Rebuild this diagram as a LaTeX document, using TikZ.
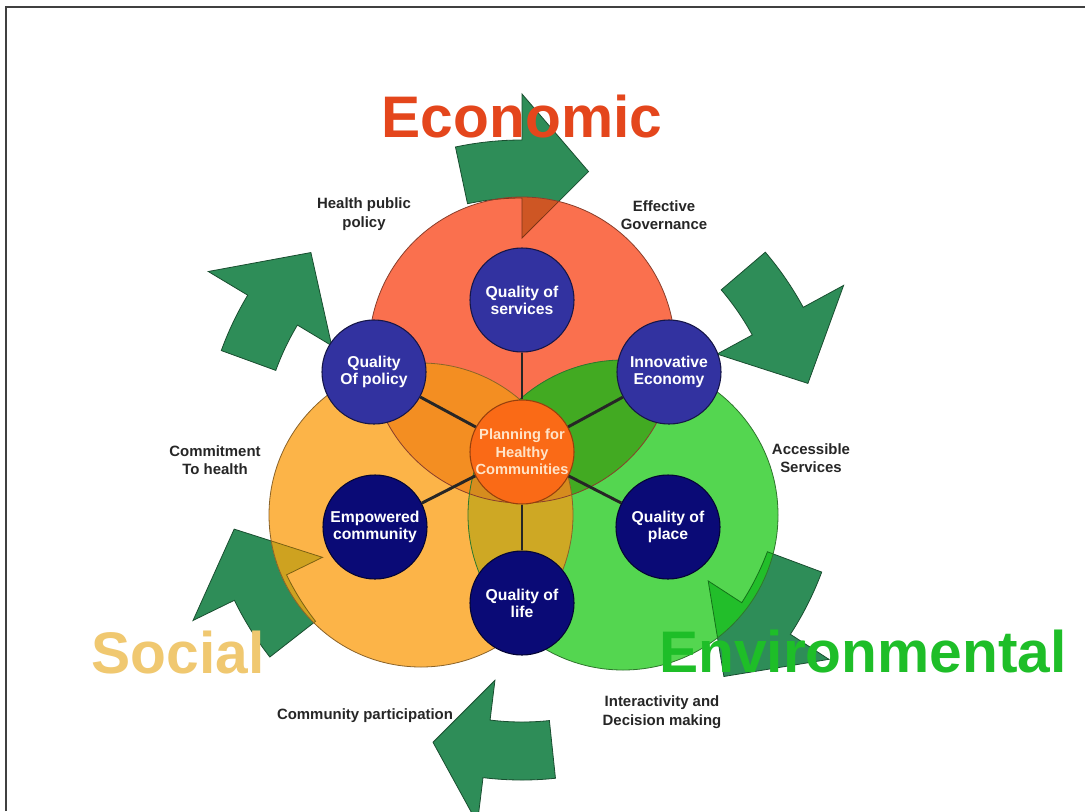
\documentclass[tikz,border=0pt]{standalone}
\usepackage{fontspec}
\setmainfont{Liberation Sans}
\usetikzlibrary{positioning}

\definecolor{turngreen}{RGB}{46,141,88}
\definecolor{ecofill}{RGB}{250,112,78}
\definecolor{socfill}{RGB}{252,180,72}
\definecolor{envfill}{RGB}{84,214,80}
\definecolor{ecosoc}{RGB}{243,142,34}
\definecolor{ecoenv}{RGB}{66,170,34}
\definecolor{socenv}{RGB}{206,168,36}
\definecolor{allthree}{RGB}{214,140,30}
\definecolor{ecotint}{RGB}{206,86,36}
\definecolor{soctint}{RGB}{206,162,32}
\definecolor{envtint}{RGB}{34,190,42}
\definecolor{goalblue}{RGB}{50,50,160}
\definecolor{goalnavy}{RGB}{10,10,118}
\definecolor{hubfill}{RGB}{250,106,22}
\definecolor{hubtext}{RGB}{255,228,200}
\definecolor{ecotext}{RGB}{228,70,28}
\definecolor{soctext}{RGB}{240,200,112}
\definecolor{envtext}{RGB}{30,190,40}

% radii of the turning arrows (pixels of the sheet)
\def\bodyin{262}
\def\bodyout{320}
\def\headin{222}
\def\headout{366}
\def\tipr{296}
% tail angle, head angle, tip angle
\newcommand{\turnpath}[3]{(#1:\bodyout) arc[start angle=#1, end angle=#2, radius=\bodyout]
  -- (#2:\headout) -- (#3:\tipr) -- (#2:\headin) -- (#2:\bodyin)
  arc[start angle=#2, end angle=#1, radius=\bodyin] -- cycle}

\begin{document}
\begin{tikzpicture}[
		x=0.75pt, y=-0.75pt,
		turn/.style={fill=turngreen, draw=turngreen!55!black, line width=0.6pt},
		ring/.style={draw=#1!55!black, line width=0.6pt},
		spoke/.style={line width=2.2pt, black!85},
		topgoal/.style={circle, fill=goalblue, draw=goalblue!45!black, line width=0.8pt, text=white,
			minimum size=78pt, inner sep=0pt, align=center, font=\bfseries\fontsize{11.8}{12.75}\selectfont},
		lowgoal/.style={topgoal, fill=goalnavy, draw=goalnavy!45!black},
		hub/.style={topgoal, fill=hubfill, draw=hubfill!60!black, text=hubtext,
			font=\bfseries\fontsize{11}{13}\selectfont},
		note/.style={align=center, text=black!85, font=\bfseries\fontsize{11.2}{14}\selectfont},
		pillar/.style={anchor=base, font=\bfseries\fontsize{44}{48}\selectfont}
		]
		
		\useasboundingbox (0,0) rectangle (1085,811);
		\clip (0,0) rectangle (1085,811);
		\fill[white] (0,0) rectangle (1085,811);
		
		\coordinate (eco) at (522,350);
		\coordinate (soc) at (421,515);
		\coordinate (env) at (623,515);
		
		% ==========================================
		% 1. Turning arrows round the circles
		% ==========================================
		\begin{scope}[shift={(522,460)}]
			\foreach \a/\b/\c in {-102/-90/-77, -40.5/-28.5/-15, 20.5/33/47,
				84/97/107.5, 142/154/166.5, -160/-149/-135.5}
			\draw[turn] \turnpath{\a}{\b}{\c};
		\end{scope}
		
		% ==========================================
		% 2. Economic, Social, Environmental circles
		% ==========================================
		\fill[ecofill] (eco) circle[radius=153];
		\fill[socfill] (soc) circle[radius=152];
		\fill[envfill] (env) circle[radius=155];
		
		% overlaps
		\begin{scope}
			\clip (eco) circle[radius=153];
			\fill[ecosoc] (soc) circle[radius=152];
			\fill[ecoenv] (env) circle[radius=155];
			\clip (soc) circle[radius=152];
			\fill[allthree] (env) circle[radius=155];
		\end{scope}
		\begin{scope}
			\clip (soc) circle[radius=152];
			\clip (env) circle[radius=155];
			\fill[socenv] (soc) circle[radius=152];
			\clip (eco) circle[radius=153];
			\fill[allthree] (eco) circle[radius=153];
		\end{scope}
		
		% arrow heads seen through the circles
		\begin{scope}
			\clip (eco) circle[radius=153];
			\draw[fill=ecotint, draw=ecotint!60!black, line width=0.6pt, shift={(522,460)}] \turnpath{-102}{-90}{-77};
		\end{scope}
		\begin{scope}
			\clip (soc) circle[radius=152];
			\draw[fill=soctint, draw=soctint!60!black, line width=0.6pt, shift={(522,460)}] \turnpath{142}{154}{166.5};
		\end{scope}
		\begin{scope}
			\clip (env) circle[radius=155];
			\draw[fill=envtint, draw=envtint!60!black, line width=0.6pt, shift={(522,460)}] \turnpath{20.5}{33}{47};
		\end{scope}
		
		\draw[ring=ecofill] (eco) circle[radius=153];
		\draw[ring=socfill] (soc) circle[radius=152];
		\draw[ring=envfill] (env) circle[radius=155];
		
		% ==========================================
		% 3. Hub and the six qualities
		% ==========================================
		\node[hub] (hub) at (522,452) {Planning for\\Healthy\\Communities};
		\node[topgoal] (services) at (522,300) {Quality of\\services};
		\node[topgoal] (policy) at (374,372) {Quality\\Of policy};
		\node[topgoal] (economy) at (669,372) {Innovative\\Economy};
		\node[lowgoal] (empower) at (375,527) {Empowered\\community};
		\node[lowgoal] (place) at (668,527) {Quality of\\place};
		\node[lowgoal] (life) at (522,603) {Quality of\\life};
		
		\draw[spoke] (hub) -- (services);
		\draw[spoke] (hub) -- (policy);
		\draw[spoke] (hub) -- (economy);
		\draw[spoke] (hub) -- (empower);
		\draw[spoke] (hub) -- (place);
		\draw[spoke] (hub) -- (life);
		
		% ==========================================
		% 4. Labels
		% ==========================================
		\node[note] (publicpolicy) at (364,214) {Health public\\policy};
		\node[note] (governance) at (664,215) {Effective\\Governance};
		\node[note] (commitment) at (215,460) {Commitment\\To health};
		\node[note] (accessible) at (811,458) {Accessible\\Services};
		\node[note] (participation) at (365,716) {Community participation};
		\node[note] (interactivity) at (662,712) {Interactivity and\\Decision making};
		
		\node[pillar, text=ecotext] (economic) at (522,137) {Economic};
		\node[pillar, text=soctext] (social) at (178,673) {Social};
		\node[pillar, text=envtext] (environmental) at (863,672) {Environmental};
		
		% frame
		\draw[line width=1.6pt, black!75] (6,811) -- (6,7) -- (1085,7);
		
	\end{tikzpicture}
\end{document}
